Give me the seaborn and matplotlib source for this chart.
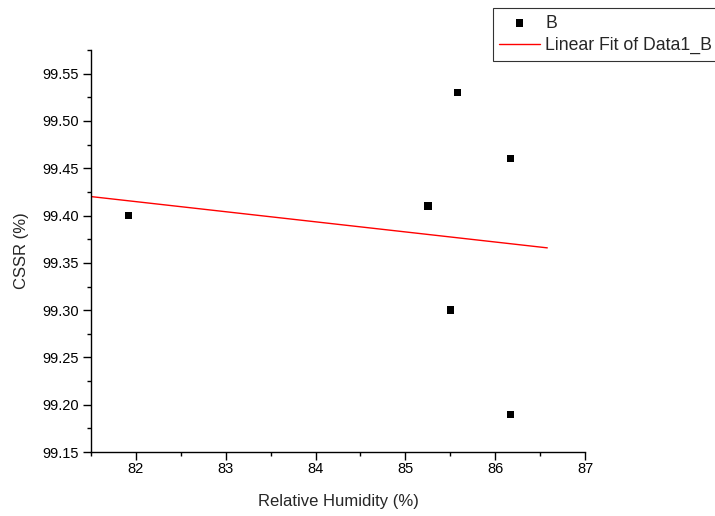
import numpy as np
import pandas as pd
import seaborn as sns
import matplotlib
matplotlib.use("Agg")
import matplotlib.pyplot as plt
from matplotlib.ticker import MultipleLocator, FormatStrFormatter

# Measured data: relative humidity vs. CSSR
humidity = [81.92, 85.25, 85.50, 85.58, 86.17, 86.17]
cssr = [99.40, 99.41, 99.30, 99.53, 99.46, 99.19]

sns.set_theme(style="ticks")
plt.rcParams["font.family"] = ["Liberation Sans", "DejaVu Sans"]

df = pd.DataFrame({"Relative Humidity (%)": humidity, "CSSR (%)": cssr})

# Least-squares linear fit
slope, intercept = np.polyfit(humidity, cssr, 1)
fit_x = np.linspace(81.5, 86.58, 50)
fit_df = pd.DataFrame({"x": fit_x, "y": slope * fit_x + intercept})

fig = plt.figure(figsize=(7.15, 5.16), dpi=100)
ax = fig.add_axes([0.1273, 0.124, 0.6909, 0.779])

sns.scatterplot(data=df, x="Relative Humidity (%)", y="CSSR (%)", ax=ax,
                marker="s", s=28, color="black", edgecolor="none", label="B",
                zorder=3)
sns.lineplot(data=fit_df, x="x", y="y", ax=ax, color="red", linewidth=1.0,
             label="Linear Fit of Data1_B", zorder=2)

ax.set_xlim(81.5, 87)
ax.set_ylim(99.15, 99.575)
ax.xaxis.set_major_locator(MultipleLocator(1))
ax.xaxis.set_minor_locator(MultipleLocator(0.5))
ax.yaxis.set_major_locator(MultipleLocator(0.05))
ax.yaxis.set_minor_locator(MultipleLocator(0.025))
ax.yaxis.set_major_formatter(FormatStrFormatter("%.2f"))

for side in ("top", "right"):
    ax.spines[side].set_visible(False)
for side in ("left", "bottom"):
    ax.spines[side].set_linewidth(1.0)
    ax.spines[side].set_color("black")

ax.tick_params(axis="both", which="major", direction="out", length=5.5,
               width=1.0, labelsize=10.5, colors="black", pad=3)
ax.tick_params(axis="x", which="major", pad=2)
ax.tick_params(axis="both", which="minor", direction="out", length=3,
               width=1.0, colors="black")

ax.set_xlabel("Relative Humidity (%)", fontsize=12, labelpad=13)
ax.set_ylabel("CSSR (%)", fontsize=12, labelpad=10)

leg = ax.legend(loc="upper left", bbox_to_anchor=(0.689, 0.9845),
                bbox_transform=fig.transFigure, fontsize=12.7, frameon=True,
                fancybox=False, borderpad=0.38, handlelength=2.3,
                handletextpad=0.3, labelspacing=0.31, borderaxespad=0,
                markerscale=1.0)
leg.get_frame().set_edgecolor("black")
leg.get_frame().set_linewidth(0.8)

fig.savefig("out.png", dpi=100)
